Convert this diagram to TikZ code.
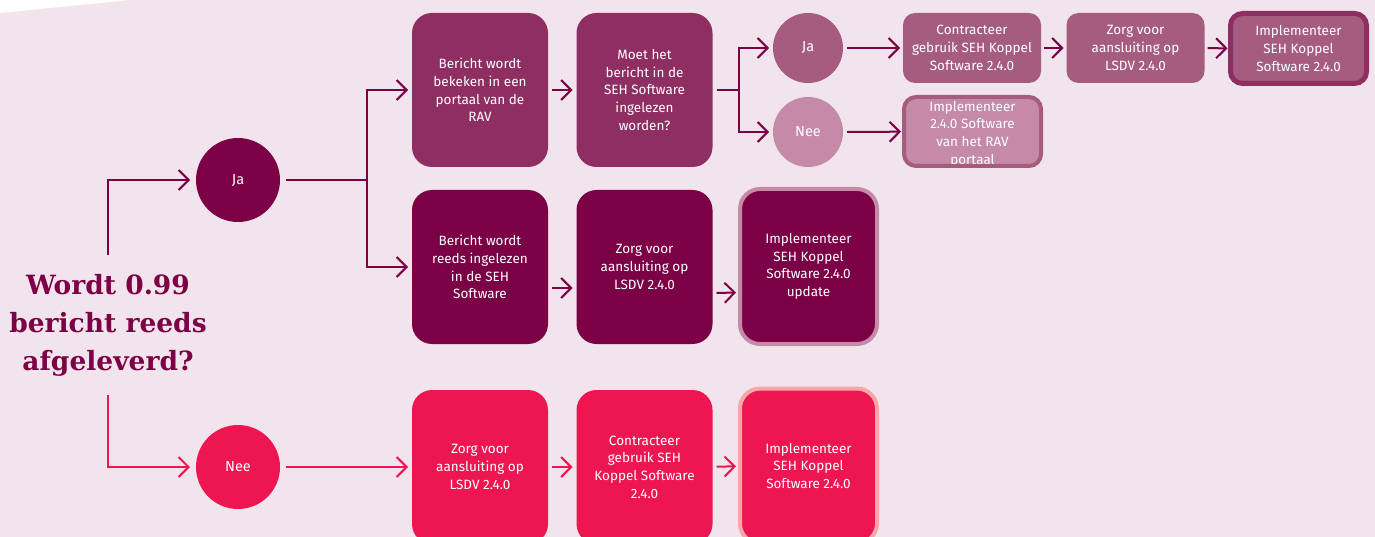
\documentclass[tikz,border=0pt]{standalone}
\usepackage{fontspec}
\setmainfont{Fira Sans}
\newfontfamily\vraagfont{DejaVu Serif}
\usetikzlibrary{arrows.meta}
\definecolor{achtergrond}{HTML}{F2E4EC}
\definecolor{wijnrood}{HTML}{7B0045}
\definecolor{pruim}{HTML}{8F2E62}
\definecolor{mauve}{HTML}{A65C7F}
\definecolor{lila}{HTML}{C58AA8}
\definecolor{roze}{HTML}{EE1651}
\definecolor{zalm}{HTML}{F6A8A8}
\tikzset{
  blok/.style={rectangle, rounded corners=20pt, minimum width=136pt, minimum height=154pt,
    inner sep=0pt, outer sep=4pt, text=white, align=center, font=\fontsize{13.5}{17.7}\selectfont},
  kleinblok/.style={blok, rounded corners=12pt, minimum width=138pt, minimum height=70pt, outer sep=3pt},
  rondje/.style={circle, minimum size=84pt, inner sep=0pt, outer sep=6pt, text=white,
    font=\fontsize{14.5}{16}\selectfont},
  kleinrondje/.style={rondje, minimum size=70pt, outer sep=4pt},
  pijl/.style={line width=2pt, -{Straight Barb[length=10pt,width=20pt]}},
}
\begin{document}
\begin{tikzpicture}[x=1pt,y=-1pt]
\useasboundingbox (0,0) rectangle (1375,537);
\clip (0,0) rectangle (1375,537);
\fill[achtergrond] (0,0) rectangle (1375,537);
\fill[white] (0,0) -- (130,0) -- (0,13) -- cycle;

\node[wijnrood, align=center, inner xsep=0pt, inner ysep=19pt,
  font=\vraagfont\bfseries\fontsize{26.5}{38}\selectfont] (vraag) at (108,325)
  {Wordt 0.99\\bericht reeds\\afgeleverd?};
\node[rondje, fill=wijnrood] (ja) at (238,180) {Ja};
\node[rondje, fill=roze] (nee) at (238,467) {Nee};

\node[blok, fill=pruim] (b11) at (480,90) {Bericht wordt\\bekeken in een\\portaal van de\\RAV};
\node[blok, fill=pruim] (b12) at (644.5,90) {Moet het\\bericht in de\\SEH Software\\ingelezen\\worden?};
\node[kleinrondje, fill=mauve] (kja) at (808,48) {Ja};
\node[kleinrondje, fill=lila] (knee) at (808,132) {Nee};
\node[kleinblok, fill=mauve] (t1) at (972,48) {Contracteer\\gebruik SEH Koppel\\Software 2.4.0};
\node[kleinblok, fill=mauve] (t2) at (1135.5,48) {Zorg voor\\aansluiting op\\LSDV 2.4.0};
\node[kleinblok, fill=mauve, draw=pruim, line width=5pt, minimum width=136pt, minimum height=70pt]
  (t3) at (1298.5,48.5) {Implementeer\\SEH Koppel\\Software 2.4.0};
\node[kleinblok, fill=lila, draw=mauve, line width=4pt, minimum width=137pt, minimum height=69pt,
  path picture={\node[text=white, align=center, font=\fontsize{13.5}{17.7}\selectfont]
    at ([yshift=-2.5pt]path picture bounding box.center)
    {Implementeer\\2.4.0 Software\\van het RAV\\portaal};}]
  (t4) at (972.5,131.5) {};

\node[blok, fill=wijnrood] (b21) at (480,267) {Bericht wordt\\reeds ingelezen\\in de SEH\\Software};
\node[blok, fill=wijnrood] (b22) at (644.5,267) {Zorg voor\\aansluiting op\\LSDV 2.4.0};
\node[blok, fill=wijnrood, draw=lila, line width=4pt, minimum width=137pt, minimum height=155pt]
  (b23) at (808.5,266.5) {Implementeer\\SEH Koppel\\Software 2.4.0\\update};

\node[blok, fill=roze] (b31) at (480,467) {Zorg voor\\aansluiting op\\LSDV 2.4.0};
\node[blok, fill=roze] (b32) at (644.5,467) {Contracteer\\gebruik SEH\\Koppel Software\\2.4.0};
\node[blok, fill=roze, draw=zalm, line width=4pt, minimum width=137pt, minimum height=155pt]
  (b33) at (808.5,466) {Implementeer\\SEH Koppel\\Software 2.4.0};

\coordinate (splitsA) at (367,180);
\coordinate (splitsB) at (739,90);
\draw[pijl, wijnrood] (vraag.north) |- (ja.west);
\draw[pijl, roze] (vraag.south) |- (nee.west);
\draw[line width=2pt, wijnrood] (ja.east) -- (splitsA);
\draw[pijl, wijnrood] (splitsA) |- (b11.west);
\draw[pijl, wijnrood] (splitsA) |- (b21.west);
\draw[pijl, wijnrood] (b11) -- (b12);
\draw[line width=2pt, wijnrood] (b12.east) -- (splitsB);
\draw[pijl, wijnrood] (splitsB) |- (kja.west);
\draw[pijl, wijnrood] (splitsB) |- (knee.west);
\draw[pijl, wijnrood] (kja) -- (t1);
\draw[pijl, wijnrood] (t1) -- (t2);
\draw[pijl, wijnrood] (t2) -- (t3);
\draw[pijl, wijnrood] (knee) -- (t4);
\draw[pijl, wijnrood] ([yshift=-21pt]b21.east) -- ([yshift=-21pt]b22.west);
\draw[pijl, wijnrood] ([yshift=-26pt]b22.east) -- ([yshift=-26pt]b23.west);
\draw[pijl, roze] (nee) -- (b31);
\draw[pijl, roze] (b31) -- (b32);
\draw[pijl, roze] (b32) -- (b33);
\end{tikzpicture}
\end{document}
